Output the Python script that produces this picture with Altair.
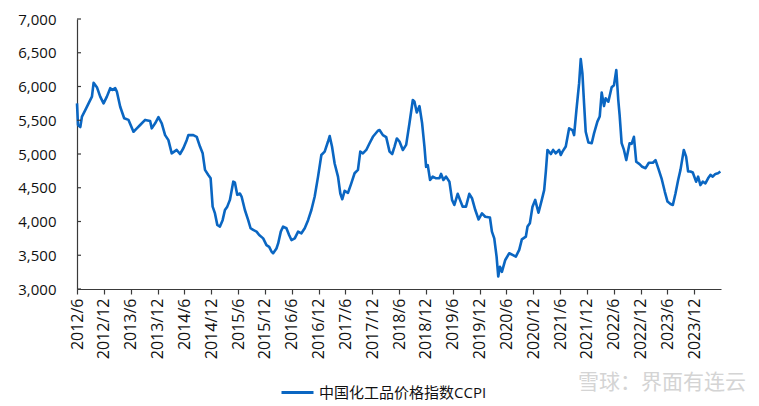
import altair as alt
import pandas as pd

# months since 2012/6 and CCPI index values
months = [
    0, 0.22, 0.74, 1.11, 1.85, 2.59, 3.34, 3.71, 4.45, 5.19, 5.94, 6.68, 7.43, 7.95, 8.54, 8.91,
    9.66, 10.55, 11.52, 12.63, 13.38, 14.12, 15.24, 16.35, 16.72, 17.47, 18.21, 18.95, 19.70, 20.44,
    21.18, 22.30, 23.04, 23.78, 24.53, 24.90, 26.01, 26.76, 27.50, 28.10, 28.62, 29.36, 29.88, 30.33,
    30.85, 31.37, 31.96, 32.56, 33.08, 33.60, 34.19, 34.94, 35.31, 35.83, 36.42, 36.80, 37.54, 38.28,
    38.81, 39.40, 40.15, 40.74, 41.63, 42.37, 42.97, 43.49, 43.86, 44.60, 44.98, 45.57, 46.09, 46.83,
    47.43, 47.95, 48.69, 49.44, 50.18, 50.92, 51.67, 52.41, 53.15, 53.90, 54.64, 55.38, 56.13, 56.50,
    57.02, 57.61, 58.36, 58.88, 59.32, 59.84, 60.59, 61.33, 62.07, 62.82, 63.34, 63.93, 64.68, 65.42,
    66.16, 67.28,
    67.65, 68.40, 69.14, 69.89, 70.48, 71.00, 71.52, 72.11, 72.86, 73.60, 74.34, 75.09, 75.46, 75.98,
    76.58, 77.17, 77.69, 78.06, 78.43, 78.95, 79.55, 80.29, 81.03, 81.41, 81.93, 82.52, 83.27, 83.86,
    84.38, 85.12, 85.64, 86.24, 86.98, 87.72, 88.32, 89.06, 89.80, 90.55, 91.29, 92.33, 92.78, 93.30,
    93.82, 94.19, 94.57, 95.01, 95.76, 96.65, 97.39, 98.13, 98.88, 99.47, 100.36, 100.74, 101.26, 101.85,
    102.45, 103.19, 103.93, 104.46, 104.83, 105.20, 105.95, 106.47, 107.06, 107.80, 108.18, 108.55, 109.29, 110.04,
    110.78, 111.15, 111.67, 112.27, 112.64, 113.01, 113.38, 113.75, 114.35, 115.09, 115.61, 116.36, 116.88, 117.32,
    117.84, 118.21, 118.81, 119.55, 120.07, 120.59, 121.03, 121.33, 121.78, 122.30, 122.82, 123.56, 124.01, 124.53,
    125.05, 125.79, 126.39, 127.13, 127.87, 128.77, 129.36, 129.96, 130.70, 131.44, 132.04, 132.71, 133.23, 133.82,
    134.42, 134.94, 135.68, 136.20, 136.65, 137.17, 137.69, 138.43, 138.88, 139.40, 139.92, 140.51, 141.11, 141.63,
    142.15, 142.75, 143.34, 143.86,
]
ccpi = [
    5750, 5430, 5400, 5555, 5650, 5750, 5850, 6055, 5990, 5850, 5750, 5850, 5975, 5950, 5975, 5925,
    5700, 5530, 5505, 5330, 5380, 5430, 5505, 5490, 5380, 5455, 5545, 5455, 5280, 5205,
    5010, 5060, 5000, 5085, 5205, 5280, 5280, 5255, 5110, 5010, 4765, 4690, 4640, 4220,
    4120, 3950, 3925, 4020, 4170, 4220, 4320, 4590, 4575, 4395, 4415, 4370, 4170, 4020,
    3900, 3875, 3850, 3800, 3750, 3650, 3625, 3555, 3530, 3600, 3675, 3850, 3925, 3900,
    3800, 3725, 3750, 3850, 3825, 3900, 4020, 4170, 4370, 4665, 4985, 5035, 5185, 5265,
    5110, 4860, 4665, 4415, 4330, 4455, 4425, 4565, 4715, 4765, 5035, 5010, 5060, 5160,
    5255, 5345,
    5355, 5280, 5250, 5035, 5000, 5110, 5230, 5185, 5060, 5135, 5455, 5800, 5775, 5615,
    5710, 5455, 5110, 4810, 4835, 4615, 4665, 4640, 4640, 4705, 4615, 4665, 4590, 4320,
    4245, 4410, 4320, 4220, 4220, 4410, 4345, 4170, 4030, 4120, 4070, 4060, 3850, 3750,
    3480, 3185, 3330, 3255, 3430, 3530, 3505, 3480, 3580, 3735, 3775, 3925, 3975, 4220,
    4320, 4130, 4320, 4465, 4740, 5060, 5000, 5060, 5010, 5060, 4985, 5035, 5110, 5380,
    5355, 5280, 5650, 6045, 6405, 6195, 5750, 5330, 5170, 5160, 5305, 5480, 5555, 5910,
    5710, 5825, 5775, 5990, 6020, 6245, 5800, 5580, 5160, 5060, 4910, 5160, 5150, 5255,
    4885, 4850, 4810, 4790, 4870, 4870, 4910, 4790, 4640, 4440, 4295, 4260, 4245, 4415,
    4615, 4765, 5060, 4960, 4740, 4740, 4725, 4590, 4665, 4540, 4590, 4565, 4640, 4690,
    4665, 4705, 4715, 4740,
]
assert len(months) == len(ccpi)

series_name = "中国化工品价格指数CCPI"
x_tick_months = list(range(0, 139, 6))  # 2012/6 ... 2023/12
y_ticks = [3000, 3500, 4000, 4500, 5000, 5500, 6000, 6500, 7000]
watermark = "雪球：界面有连云"

df = pd.DataFrame({"m": months, "v": ccpi, "series": series_name})
ticks_df = pd.DataFrame({"v": y_ticks})

FONT = "Open Sans, Noto Sans CJK SC, sans-serif"
BLUE = "#0a66c2"
TXT = "#111111"

x_scale = alt.Scale(domain=[0, 144], nice=False, zero=False)
y_scale = alt.Scale(domain=[3000, 7000], nice=False, zero=False)
y_axis = alt.Axis(values=y_ticks, title=None, grid=False, format=",.0f",
                  labelFont=FONT, labelFontSize=15, labelColor=TXT,
                  domainColor="#3a3a3a", domainWidth=1.2, tickSize=0,
                  labelPadding=21, labelFlush=False)

line = alt.Chart(df).mark_line(strokeWidth=2.6, strokeJoin="round").encode(
    x=alt.X("m:Q", scale=x_scale,
            axis=alt.Axis(values=x_tick_months, title=None, grid=False, labelAngle=270,
                          labelExpr="(floor(datum.value/12)+2012) + '/' + (datum.value % 12 == 0 ? '6' : '12')",
                          labelFont=FONT, labelFontSize=16, labelColor=TXT,
                          domainColor="#3a3a3a", domainWidth=1.2, tickColor="#3a3a3a",
                          tickSize=5, tickWidth=1.2, labelPadding=4, labelOverlap=False,
                          labelFlush=False)),
    y=alt.Y("v:Q", scale=y_scale, axis=y_axis),
    color=alt.Color("series:N", scale=alt.Scale(range=[BLUE]),
                    legend=alt.Legend(title=None, orient="none", legendX=203, legendY=356,
                                      symbolType="stroke", symbolSize=1024, symbolStrokeWidth=3,
                                      labelFont=FONT, labelFontSize=15, labelColor=TXT,
                                      labelOffset=4, padding=0, labelLimit=0)),
)

yticks = alt.Chart(ticks_df).mark_rule(color="#3a3a3a", strokeWidth=1.2).encode(
    y=alt.Y("v:Q", scale=y_scale, axis=y_axis),
    x=alt.value(0),
    x2=alt.value(4),
)

wm = alt.Chart(pd.DataFrame({"t": [watermark]})).mark_text(
    font=FONT, fontSize=21, color="#d4d4d4", align="center", baseline="middle"
).encode(text="t:N", x=alt.value(585), y=alt.value(364))

chart = alt.layer(line, yticks, wm).properties(
    width=644, height=270,
    autosize=alt.AutoSizeParams(type="none"),
    padding={"left": 77, "top": 19, "right": 38, "bottom": 117},
    background="white",
).configure_view(stroke=None)

chart.save("out.html", embed_options={"renderer": "svg", "actions": False})
